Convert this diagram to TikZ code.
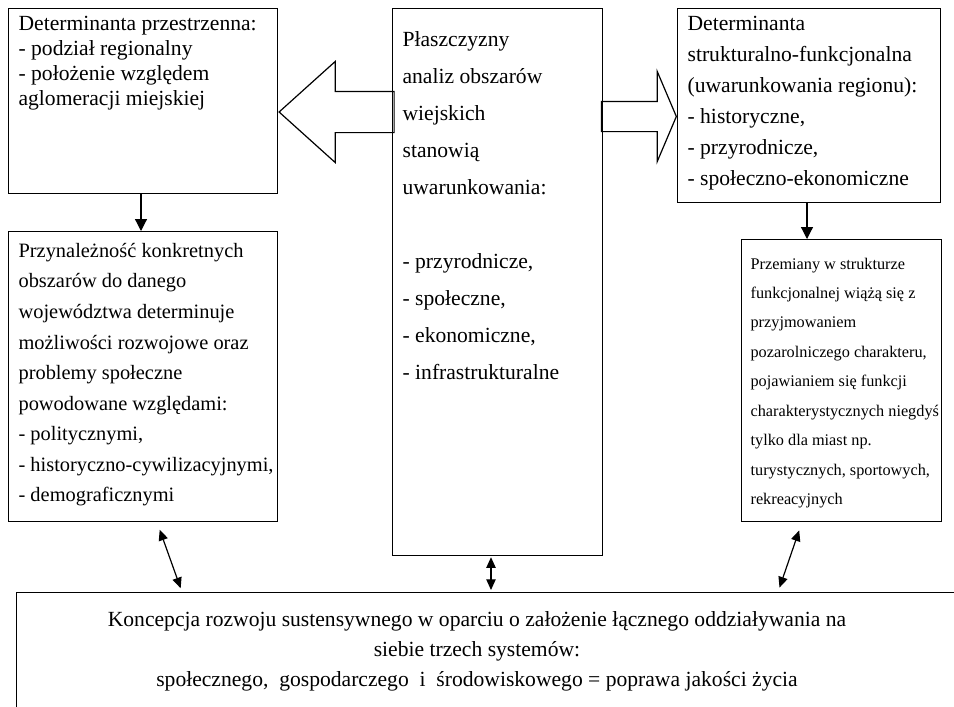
\documentclass[tikz,border=0pt]{standalone}
\usepackage{fontspec}
\setmainfont{Liberation Serif}
\usetikzlibrary{positioning,shapes.arrows,arrows.meta}

% tekst w ramce: szerokosc, wysokosc, stopien pisma, odstep wierszy, tresc
\newcommand{\tresc}[5]{\parbox[t][#2][t]{#1}{\fontsize{#3}{#4}\selectfont\raggedright #5}}

\tikzset{
  pole/.style={draw, line width=0.9pt, anchor=north west, inner xsep=7.5pt, inner ysep=5.5pt},
  pusta/.style={draw, line width=0.9pt, single arrow, single arrow head indent=0pt,
    single arrow head extend=22.5pt, inner sep=0pt, text depth=0pt},
  strz/.style={-{Triangle[length=9pt,width=9pt]}, line width=0.9pt},
  dwu/.style={{Triangle[length=8pt,width=7pt]}-{Triangle[length=8pt,width=7pt]}, line width=0.9pt},
}

\begin{document}
\begin{tikzpicture}[x=0.75pt, y=-0.75pt]
\useasboundingbox (0,0) rectangle (954,707);
\clip (0,0) rectangle (954,707);

\node[pole] (przestrz) at (8,8)
  {\tresc{186.75pt}{127.75pt}{16.2}{18.75pt}{Determinanta przestrzenna:\\
   - podział regionalny\\
   - położenie względem\\
   aglomeracji miejskiej}};

\node[pole, inner ysep=8.75pt] (przynal) at (8,231)
  {\tresc{186.75pt}{200pt}{15.3}{22.9pt}{Przynależność konkretnych\\
   obszarów do danego\\
   województwa determinuje\\
   możliwości rozwojowe oraz\\
   problemy społeczne\\
   powodowane względami:\\
   - politycznymi,\\
   \mbox{- historyczno-cywilizacyjnymi,}\\
   - demograficznymi}};

\node[pole, inner ysep=17.4pt] (plaszcz) at (392,8)
  {\tresc{142.5pt}{375.45pt}{16.2}{27.75pt}{Płaszczyzny\\
   analiz obszarów\\
   wiejskich\\
   stanowią\\
   uwarunkowania:\\[27.75pt]
   - przyrodnicze,\\
   - społeczne,\\
   - ekonomiczne,\\
   - infrastrukturalne}};

\node[pole] (strukt) at (677,8)
  {\tresc{182.25pt}{134.5pt}{16.2}{23.25pt}{Determinanta\\
   strukturalno-funkcjonalna\\
   (uwarunkowania regionu):\\
   - historyczne,\\
   - przyrodnicze,\\
   - społeczno-ekonomiczne}};

\node[pole, inner xsep=6.75pt, inner ysep=13.6pt] (przemiany) at (741,239)
  {\tresc{136.5pt}{184.3pt}{12.2}{22.1pt}{Przemiany w strukturze\\
   funkcjonalnej wiążą się z\\
   przyjmowaniem\\
   pozarolniczego charakteru,\\
   pojawianiem się funkcji\\
   \mbox{charakterystycznych niegdyś}\\
   tylko dla miast np.\\
   turystycznych, sportowych,\\
   rekreacyjnych}};

\node[draw, line width=0.9pt, anchor=north west, minimum width=800pt, minimum height=200pt] (koncepcja) at (16,592) {};
\node[align=center, font=\fontsize{16.2}{22.5pt}\selectfont, anchor=north] (koncepcjatxt) at (477,607)
  {Koncepcja rozwoju sustensywnego w oparciu o założenie łącznego oddziaływania na\\
   siebie trzech systemów:\\
   społecznego,\ \ gospodarczego\ \ i\ \ środowiskowego = poprawa jakości życia};

\node[pusta, text height=30pt, single arrow tip angle=84, shape border rotate=180, minimum height=86.25pt, anchor=tip] (lewa) at (przestrz.east |- 0,112) {};
\node[pusta, text height=21.75pt, single arrow tip angle=134, minimum height=56.25pt, anchor=tip] (prawa) at (strukt.west |- 0,116.5) {};

\draw[strz] (przestrz.south -| 141,0) -- (przynal.north -| 141,0);
\draw[strz] (strukt.south -| 807,0) -- (przemiany.north -| 807,0);

\draw[dwu, shorten <=6pt, shorten >=3pt] (przynal.south -| 157,0) -- (koncepcja.north -| 182,0);
\draw[dwu, shorten <=0.75pt, shorten >=1.5pt] (plaszcz.south -| 491,0) -- (koncepcja.north -| 491,0);
\draw[dwu, shorten <=6.5pt, shorten >=3.5pt] (przemiany.south -| 802,0) -- (koncepcja.north -| 778,0);
\end{tikzpicture}
\end{document}
